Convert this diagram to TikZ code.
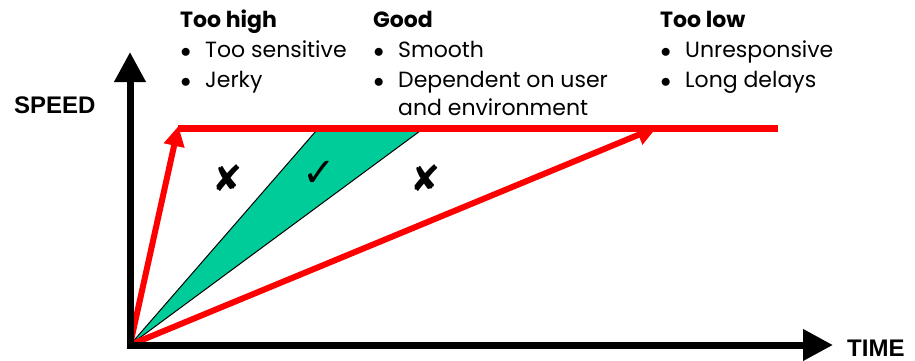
\documentclass[tikz,border=0pt]{standalone}
\usepackage{fontspec}
\setmainfont{Poppins}
\newfontfamily\arialfont{Liberation Sans}
\newfontfamily\symfont{DejaVu Sans}
\usetikzlibrary{arrows.meta}
\definecolor{goodgreen}{RGB}{0,204,153}
\definecolor{redline}{RGB}{255,0,0}
\newcommand\bul{\makebox[24.5pt][l]{$\bullet$}}
\tikzset{
  axisline/.style={line width=7pt, -{Triangle[length=30pt,width=30pt]}},
  redarrow/.style={redline, line width=6pt, -{Triangle[length=20pt,width=20pt]}, shorten >=-2pt},
  heading/.style={anchor=base west, font=\fontsize{22}{26}\selectfont\bfseries, inner sep=0pt},
  item/.style={anchor=base west, font=\fontsize{22}{26}\selectfont, inner sep=0pt, align=left},
  axlabel/.style={font=\arialfont\fontsize{24}{28}\selectfont\bfseries, inner sep=0pt, anchor=base west},
  crossmark/.style={font=\symfont\fontsize{36}{38}\selectfont, inner sep=0pt},
  checkmark/.style={font=\symfont\fontsize{40}{42}\selectfont, inner sep=0pt}
}
\begin{document}
\begin{tikzpicture}[x=1pt,y=-1pt]
\useasboundingbox (0,0) rectangle (915,361);
\coordinate (O) at (130,345);
\coordinate (Ytip) at (130,52);
\coordinate (Xtip) at (833,345);
\coordinate (L1) at (178,128);
\coordinate (R) at (778,128);
\coordinate (L2) at (655,128);
\coordinate (G1) at (316,131);
\coordinate (G2) at (420,131);
% green wedge
\filldraw[fill=goodgreen, draw=black, line width=1pt] (O) -- (G1) -- (G2) -- cycle;
% red lines
\draw[redline, line width=7pt] (L1) -- (R);
\draw[redarrow] (O) -- (L1);
\draw[redarrow] (O) -- (L2);
% axes
\draw[axisline] ([yshift=-3.5pt]O) -- (Ytip);
\draw[axisline] ([xshift=-3.5pt]O) -- (Xtip);
% axis labels
\node[axlabel] (speed) at (14,113) {SPEED};
\node[axlabel] (time) at (847,356) {TIME};
% marks
\node[crossmark] (x1) at (228,178) {✘};
\node[checkmark] (chk) at (319,174) {✓};
\node[crossmark] (x2) at (426,178) {✘};
% texts
\node[heading] (h1) at (180,28) {Too high};
\node[item] (b11) at (180.5,58) {\bul Too sensitive};
\node[item] (b12) at (180.5,87) {\bul Jerky};
\node[heading] (h2) at (373,28) {Good};
\node[item] (b21) at (373.5,58) {\bul Smooth};
\node[item] (b22) at (373.5,87) {\bul Dependent on user};
\node[item] (b23) at (398,115) {and environment};
\node[heading] (h3) at (660,28) {Too low};
\node[item] (b31) at (660.5,58) {\bul Unresponsive};
\node[item] (b32) at (660.5,87) {\bul Long delays};
\end{tikzpicture}
\end{document}
